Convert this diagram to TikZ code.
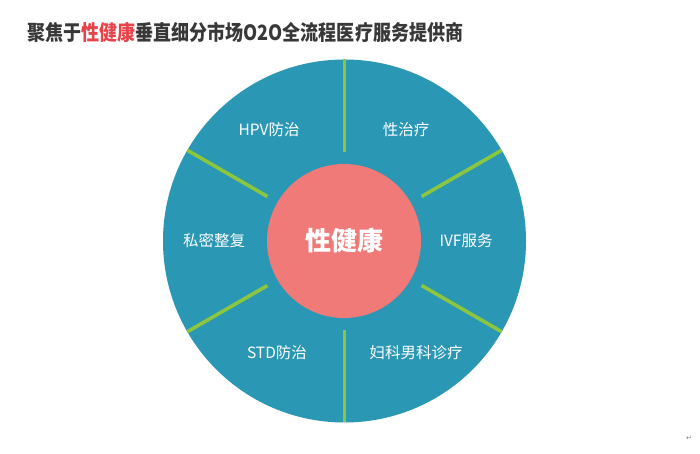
\documentclass[tikz,border=0pt]{standalone}
\usepackage{fontspec}
\usetikzlibrary{calc}
\newfontfamily\cjk{Noto Sans CJK SC}
\newfontfamily\symf{DejaVu Sans}
\definecolor{teal1}{HTML}{2A97B5}
\definecolor{pink1}{HTML}{EF7A78}
\definecolor{green1}{HTML}{8CC63E}
\definecolor{titlegray}{HTML}{383838}
\definecolor{titlered}{HTML}{E8434A}
\begin{document}
\begin{tikzpicture}[x=1pt,y=1pt,
  label/.style={text=white,font=\cjk\fontsize{15.5}{18}\selectfont,inner sep=0pt},
  spoke/.style={draw=green1,line width=3.6pt}]
\useasboundingbox (0,0) rectangle (700,454);
\fill[white] (0,0) rectangle (700,454);
% title
\node[anchor=west,inner sep=0pt,text=titlegray,font=\cjk\bfseries\fontsize{21}{24}\selectfont] (title) at (27,422)
  {\resizebox{436pt}{\height}{聚焦于\textcolor{titlered}{性健康}垂直细分市场O2O全流程医疗服务提供商}};
% outer circle
\node[circle,fill=teal1,minimum size=363pt,inner sep=0pt] (outer) at (344.5,213) {};
% spokes
\foreach \a/\n in {90/t,30/ur,-30/lr,-90/b,-150/ll,150/ul}{
  \coordinate (s\n1) at ($(outer.center)+(\a:89)$);
  \coordinate (s\n2) at ($(outer.center)+(\a:181.5)$);
}
\draw[spoke] (st1) -- (st2);
\draw[spoke] (sb1) -- (sb2);
\draw[spoke] (sur1) -- (sur2);
\draw[spoke] (slr1) -- (slr2);
\draw[spoke] (sul1) -- (sul2);
\draw[spoke] (sll1) -- (sll2);
% inner circle
\node[circle,fill=pink1,minimum size=154pt,inner sep=0pt,text=white,font=\cjk\bfseries\fontsize{26}{30}\selectfont] (inner) at (344,213) {性健康};
% labels
\node[label] (hpv) at (269,324) {HPV防治};
\node[label] (xzl) at (406,324) {性治疗};
\node[label] (smz) at (214,213) {私密整复};
\node[label] (ivf) at (466,213) {IVF服务};
\node[label] (std) at (277,101) {STD防治};
\node[label] (fk) at (416,101) {妇科男科诊疗};
\node[text=gray,font=\symf\fontsize{7}{8}\selectfont,inner sep=0pt] (ret) at (689,16) {↵};
\end{tikzpicture}
\end{document}
